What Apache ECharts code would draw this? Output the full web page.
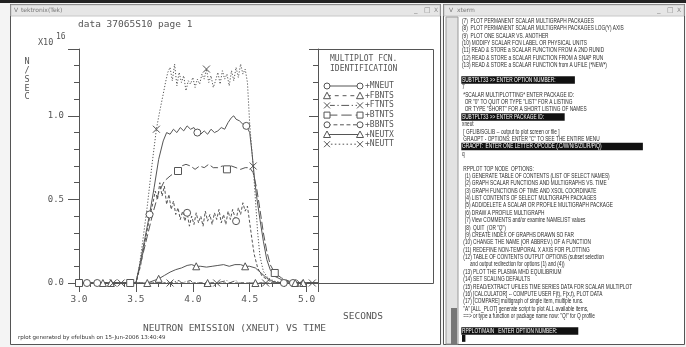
<!DOCTYPE html>
<html>
<head>
<meta charset="utf-8">
<script src="https://cdn.jsdelivr.net/npm/echarts@6/dist/echarts.min.js"></script>
<style>
  html, body { margin: 0; padding: 0; background: #fff; }
  #main { width: 686px; height: 347px; }
</style>
</head>
<body>
<div id="main"></div>
<script>
// ---- data (time in s, value in 1e16 n/s) ----
const xTicks = ['3.0', '3.5', '4.0', '4.5', '5.0']
const yTicks = ['0.0', '0.5', '1.0']

const mneut = [[3.0,0],[3.07,0],[3.3,0],[3.5,0],[3.54,0.13],[3.58,0.27],[3.62,0.41],[3.66,0.57],[3.7,0.74],[3.74,0.85],[3.77,0.9],[3.8,0.89],[3.83,0.92],[3.86,0.9],[3.89,0.93],[3.92,0.91],[3.95,0.94],[3.98,0.92],[4.01,0.93],[4.04,0.9],[4.07,0.89],[4.1,0.91],[4.13,0.89],[4.16,0.92],[4.19,0.9],[4.22,0.91],[4.25,0.93],[4.28,0.92],[4.31,0.96],[4.34,0.99],[4.36,1.0],[4.38,0.98],[4.41,0.97],[4.44,0.95],[4.47,0.94],[4.5,0.9],[4.52,0.78],[4.54,0.64],[4.56,0.52],[4.59,0.38],[4.62,0.25],[4.65,0.14],[4.68,0.08],[4.72,0.04],[4.78,0.02],[4.88,0],[5.1,0]]
const fbnts = [[3.0,0],[3.21,0],[3.6,0],[4.13,0],[4.55,0],[4.97,0],[5.1,0]]
const ftnts = [[3.0,0],[3.37,0],[3.8,0],[3.88,0.015],[3.9,0],[3.98,0.015],[4.0,0],[4.21,0],[4.3,0.015],[4.32,0],[4.38,0.015],[4.4,0],[4.64,0],[5.05,0],[5.1,0]]
const btnts = [[3.0,0],[3.45,0],[3.5,0],[3.55,0.14],[3.6,0.28],[3.65,0.42],[3.7,0.54],[3.75,0.61],[3.8,0.64],[3.84,0.66],[3.87,0.67],[3.9,0.7],[3.94,0.71],[3.98,0.7],[4.02,0.68],[4.06,0.7],[4.1,0.69],[4.14,0.71],[4.18,0.69],[4.22,0.69],[4.26,0.7],[4.3,0.68],[4.34,0.7],[4.38,0.69],[4.42,0.68],[4.46,0.69],[4.5,0.69],[4.53,0.66],[4.56,0.57],[4.59,0.44],[4.62,0.3],[4.65,0.19],[4.68,0.11],[4.72,0.06],[4.78,0.03],[4.85,0.01],[4.95,0],[5.1,0]]
const bbnts = [[3.0,0],[3.16,0],[3.5,0],[3.54,0.1],[3.58,0.25],[3.62,0.39],[3.65,0.48],[3.67,0.55],[3.69,0.5],[3.71,0.6],[3.73,0.52],[3.75,0.58],[3.77,0.47],[3.79,0.53],[3.81,0.44],[3.83,0.49],[3.85,0.41],[3.87,0.45],[3.89,0.38],[3.91,0.43],[3.93,0.37],[3.95,0.42],[3.97,0.34],[3.99,0.4],[4.01,0.35],[4.03,0.42],[4.05,0.36],[4.07,0.4],[4.09,0.34],[4.11,0.43],[4.13,0.37],[4.15,0.41],[4.17,0.35],[4.19,0.42],[4.21,0.38],[4.23,0.44],[4.25,0.36],[4.27,0.41],[4.29,0.35],[4.31,0.43],[4.33,0.38],[4.35,0.44],[4.38,0.37],[4.4,0.45],[4.42,0.41],[4.44,0.48],[4.46,0.43],[4.48,0.46],[4.5,0.36],[4.52,0.26],[4.54,0.17],[4.57,0.09],[4.61,0.04],[4.68,0.01],[4.8,0],[5.1,0]]
const neutx = [[3.0,0],[3.28,0],[3.58,0],[3.62,0.005],[3.66,0.015],[3.7,0.025],[3.75,0.045],[3.8,0.065],[3.85,0.08],[3.9,0.09],[3.95,0.105],[3.99,0.11],[4.03,0.1],[4.07,0.1],[4.12,0.095],[4.17,0.1],[4.22,0.105],[4.27,0.11],[4.32,0.1],[4.37,0.11],[4.42,0.11],[4.46,0.1],[4.5,0.1],[4.55,0.09],[4.6,0.06],[4.65,0.03],[4.7,0.01],[4.75,0],[4.9,0],[5.1,0]]
const neutt = [[3.0,0],[3.3,0],[3.5,0],[3.53,0.1],[3.56,0.25],[3.6,0.46],[3.64,0.7],[3.68,0.92],[3.71,1.03],[3.74,1.13],[3.76,1.2],[3.78,1.26],[3.8,1.29],[3.82,1.21],[3.84,1.31],[3.86,1.18],[3.88,1.26],[3.9,1.2],[3.92,1.24],[3.94,1.15],[3.96,1.21],[3.98,1.19],[4.0,1.23],[4.02,1.17],[4.04,1.22],[4.06,1.19],[4.08,1.25],[4.1,1.22],[4.12,1.28],[4.14,1.2],[4.16,1.24],[4.18,1.17],[4.2,1.21],[4.22,1.26],[4.24,1.19],[4.26,1.27],[4.28,1.22],[4.3,1.25],[4.32,1.18],[4.34,1.27],[4.36,1.21],[4.38,1.29],[4.4,1.23],[4.42,1.31],[4.44,1.25],[4.46,1.28],[4.48,1.2],[4.5,0.95],[4.53,0.7],[4.55,0.5],[4.57,0.3],[4.59,0.16],[4.62,0.07],[4.66,0.03],[4.72,0.01],[4.8,0],[4.94,0],[5.1,0]]

// times where the plotter put a marker on each curve
const mneutMarks = [3.07, 3.62, 4.04, 4.47, 4.88]
const fbntsMarks = [3.21, 3.6, 4.13, 4.55, 4.97]
const ftntsMarks = [3.37, 3.8, 4.21, 4.64, 5.05]
const btntsMarks = [3.0, 3.45, 3.87, 4.3, 4.72]
const bbntsMarks = [3.16, 3.95, 4.38, 4.8]
const neutxMarks = [3.28, 3.7, 4.03, 4.46, 4.9]
const neuttMarks = [3.3, 3.68, 4.12, 4.53, 4.94]

const seriesNames = ['+MNEUT', '+FBNTS', '+FTNTS', '+BTNTS', '+BBNTS', '+NEUTX', '+NEUTT']

// xterm session text
const xtermLines = [
  '(7)  PLOT PERMANENT SCALAR MULTIGRAPH PACKAGES',
  '(8)  PLOT PERMANENT SCALAR MULTIGRAPH PACKAGES LOG(Y) AXIS',
  '(9)  PLOT ONE SCALAR VS. ANOTHER',
  '(10) MODIFY SCALAR FCN LABEL OR PHYSICAL UNITS',
  '(11) READ & STORE a SCALAR FUNCTION FROM A 2ND RUNID',
  '(12) READ & STORE a SCALAR FUNCTION FROM A SNAP RUN',
  '(13) READ & STORE a SCALAR FUNCTION from A UFILE (*NEW*)',
  '',
  'SUBTPLT33 >> ENTER OPTION NUMBER:',
  '7',
  ' *SCALAR MULTIPLOTTING* ENTER PACKAGE ID:',
  '  OR "0" TO QUIT OR TYPE "LIST" FOR A LISTING',
  '  OR TYPE "SHORT" FOR A SHORT LISTING OF NAMES',
  'SUBTPLT33 >> ENTER PACKAGE ID:',
  'xneut',
  ' [ GFLIB/SGLIB -- output to plot screen or file ]',
  ' GRAOPT - OPTIONS: ENTER "C" TO SEE THE ENTIRE MENU',
  'GRAOPT:  ENTER ONE LETTER OPCODE (.C/W/N/S/Z/L/R/P/Q)',
  'q',
  '',
  ' RPPLOT TOP NODE  OPTIONS:',
  '  (1) GENERATE TABLE OF CONTENTS (LIST OF SELECT NAMES)',
  '  (2) GRAPH SCALAR FUNCTIONS AND MULTIGRAPHS VS. TIME',
  '  (3) GRAPH FUNCTIONS OF TIME AND XSOL COORDINATE',
  '  (4) LIST CONTENTS OF SELECT MULTIGRAPH PACKAGES',
  '  (5) ADD/DELETE A SCALAR OR PROFILE MULTIGRAPH PACKAGE',
  '  (6) DRAW A PROFILE MULTIGRAPH',
  '  (7) View COMMENTS and/or examine NAMELIST values',
  '  (8)  QUIT  (OR "Q")',
  '  (9) CREATE INDEX OF GRAPHS DRAWN SO FAR',
  ' (10) CHANGE THE NAME (OR ABBREV.) OF A FUNCTION',
  ' (11) REDEFINE NON-TEMPORAL X AXIS FOR PLOTTING',
  ' (12) TABLE OF CONTENTS OUTPUT OPTIONS (subset selection',
  '      and output redirection for options (1) and (4))',
  ' (13) PLOT THE PLASMA MHD EQUILIBRIUM',
  ' (14) SET SCALING DEFAULTS',
  ' (15) READ/EXTRACT UFILES TIME SERIES DATA FOR SCALAR MULTIPLOT',
  ' (16) [CALCULATOR] -- COMPUTE USER F(t), F(x,t), PLOT DATA',
  ' (17) [COMPARE] multigraph of single item, multiple runs.',
  ' "A" [ALL_PLOT] generate script to plot ALL available items,',
  ' ==> or type a function or package name now: "Q!" for Q profile',
  '',
  'RPPLOT/MAIN   ENTER OPTION NUMBER:'
]
const xtermHighlight = [8, 13, 17, 42]

// ---- layout / style ----
const INK = '#555'
const MONO = 'DejaVu Sans Mono'
const G = {left: 79, top: 49, width: 239, height: 234}
const CROSS = 'path://M0,0L10,10M10,0L0,10'
const markSym = ['circle', 'triangle', CROSS, 'rect', 'circle', 'triangle', CROSS]
const dashes = ['solid', [3, 3], [6, 2, 1, 2], [8, 3], [3, 2], 'solid', [1.2, 1.8]]
const allData = [mneut, fbnts, ftnts, btnts, bbnts, neutx, neutt]
const allMarks = [mneutMarks, fbntsMarks, ftntsMarks, btntsMarks, bbntsMarks, neutxMarks, neuttMarks]

const withMarks = (data, marks, sym) => data.map(p => {
  const hit = marks.some(m => Math.abs(m - p[0]) < 1e-6)
  return hit ? {value: p, symbol: sym, symbolSize: 7} : {value: p, symbol: 'none'}
})

const series = allData.map((d, i) => ({
  name: seriesNames[i],
  type: 'line',
  data: withMarks(d, allMarks[i], markSym[i]),
  symbol: 'none',
  showSymbol: true,
  animation: false,
  silent: true,
  lineStyle: {color: INK, width: 1, type: dashes[i]},
  itemStyle: {color: markSym[i] === CROSS ? 'transparent' : '#fff', borderColor: INK, borderWidth: 1}
}))

// ---- graphic: window chrome, captions, legend box, xterm ----
const graphic = []
const txt = (x, y, text, font, fill, align) => ({
  type: 'text', x, y, silent: true,
  style: {text, font, fill: fill || INK, align: align || 'left', verticalAlign: 'middle'}
})
const seg = (x1, y1, x2, y2, dash) => ({
  type: 'line', silent: true, shape: {x1, y1, x2, y2},
  style: {stroke: INK, lineWidth: 1, lineDash: dash || null}
})

// desktop + windows
graphic.push({type: 'rect', shape: {x: 0, y: 0, width: 686, height: 347}, style: {fill: '#f4f4f4'}, z: -10})
graphic.push({type: 'rect', shape: {x: 0, y: 0, width: 686, height: 3}, style: {fill: '#222'}, z: -10})
// tek window
graphic.push({type: 'rect', shape: {x: 10.5, y: 4.5, width: 430, height: 340}, style: {fill: '#fff', stroke: '#555', lineWidth: 1}, z: -9})
graphic.push({type: 'rect', shape: {x: 11, y: 5, width: 429, height: 11}, style: {fill: '#e6e6e6', stroke: '#c8c8c8', lineWidth: 1}, z: -8})
graphic.push(txt(14, 10.5, 'V', '6px DejaVu Sans', '#777'))
graphic.push(txt(21, 10.5, 'tektronix(Tek)', '6px DejaVu Sans', '#777'))
graphic.push(txt(414, 10.5, '_', '7px DejaVu Sans', '#888'))
graphic.push(txt(424, 10.5, '□', '7px DejaVu Sans', '#888'))
graphic.push(txt(434, 10.5, 'X', '6px DejaVu Sans', '#888'))
// xterm window
graphic.push({type: 'rect', shape: {x: 443.5, y: 4.5, width: 241, height: 340}, style: {fill: '#fff', stroke: '#555', lineWidth: 1}, z: -9})
graphic.push({type: 'rect', shape: {x: 444, y: 5, width: 240, height: 11}, style: {fill: '#e6e6e6', stroke: '#c8c8c8', lineWidth: 1}, z: -8})
graphic.push(txt(449, 10.5, 'V', '6px DejaVu Sans', '#777'))
graphic.push(txt(457, 10.5, 'xterm', '6px DejaVu Sans', '#777'))
graphic.push(txt(657, 10.5, '_', '7px DejaVu Sans', '#888'))
graphic.push(txt(667, 10.5, '□', '7px DejaVu Sans', '#888'))
graphic.push(txt(677, 10.5, 'X', '6px DejaVu Sans', '#888'))
// xterm scrollbar
graphic.push({type: 'rect', shape: {x: 446, y: 17, width: 12, height: 327}, style: {fill: '#e2e2e2', stroke: '#999', lineWidth: 1}, z: -7})
graphic.push({type: 'rect', shape: {x: 451, y: 308, width: 6, height: 36}, style: {fill: '#777'}, z: -6})

// plot captions
graphic.push(txt(78, 25, 'data 37065S10 page 1', '9.5px ' + MONO))
graphic.push(txt(38, 43, 'X10', '8.5px ' + MONO))
graphic.push(txt(56, 37, '16', '8px ' + MONO))
;['N', '/', 'S', 'E', 'C'].forEach((c, i) => graphic.push(txt(27, 62 + i * 8.8, c, '8.5px ' + MONO, INK, 'center')))
graphic.push(txt(343, 317, 'SECONDS', '9.5px ' + MONO))
graphic.push(txt(143, 329, 'NEUTRON EMISSION (XNEUT) VS TIME', '9.5px ' + MONO))
graphic.push(txt(18, 338, 'rplot generated by efelbush on 15-Jun-2006 13:40:49', '5.5px DejaVu Sans', '#333'))

// legend box to the right of the plot frame
graphic.push({type: 'polyline', shape: {points: [[318, 49.5], [433.5, 49.5], [433.5, 283.5], [318, 283.5]]}, style: {stroke: INK, lineWidth: 1, fill: 'none'}})
graphic.push(txt(330, 59, 'MULTIPLOT FCN.', '8px ' + MONO))
graphic.push(txt(330, 69, 'IDENTIFICATION', '8px ' + MONO))
seriesNames.forEach((n, i) => {
  const y = 86 + i * 9.7
  const dash = dashes[i] === 'solid' ? null : dashes[i].map(v => v * 1.3)
  graphic.push(seg(327, y, 360, y, dash))
  ;[327, 360].forEach(cx => {
    const s = markSym[i]
    if (s === 'circle') graphic.push({type: 'circle', shape: {cx, cy: y, r: 3}, style: {fill: '#fff', stroke: INK, lineWidth: 1}})
    else if (s === 'triangle') graphic.push({type: 'polygon', shape: {points: [[cx, y - 3.5], [cx + 3.5, y + 3], [cx - 3.5, y + 3]]}, style: {fill: '#fff', stroke: INK, lineWidth: 1}})
    else if (s === 'rect') graphic.push({type: 'rect', shape: {x: cx - 3, y: y - 3, width: 6, height: 6}, style: {fill: '#fff', stroke: INK, lineWidth: 1}})
    else {
      graphic.push({type: 'rect', shape: {x: cx - 3, y: y - 3, width: 6, height: 6}, style: {fill: '#fff'}})
      graphic.push(seg(cx - 3, y - 3, cx + 3, y + 3))
      graphic.push(seg(cx + 3, y - 3, cx - 3, y + 3))
    }
  })
  graphic.push(txt(365, y, n, '8px ' + MONO))
})

// xterm text, condensed
const termKids = []
xtermLines.forEach((line, i) => {
  const y = 21 + i * 7.38
  const hl = xtermHighlight.includes(i)
  if (hl) {
    const w = line.length * 5.0 + 2
    termKids.push({type: 'rect', shape: {x: -1, y: y - 3.7, width: w, height: 7.4}, style: {fill: '#111'}})
  }
  if (line) termKids.push(txt(0, y, line, '7px Liberation Sans', hl ? '#fff' : '#2a2a2a'))
})
termKids.push({type: 'rect', shape: {x: 0, y: 21 + 43 * 7.38 - 3.5, width: 5, height: 7}, style: {fill: '#111'}})
graphic.push({type: 'group', x: 462, y: 0, scaleX: 0.68, children: termKids})

const axisLine = {lineStyle: {color: INK, width: 1}}
const xBase = {type: 'value', min: 3.0, max: 5.1, gridIndex: 0, splitLine: {show: false}}
const yBase = {type: 'value', min: 0, max: 1.4, gridIndex: 0, splitLine: {show: false}}

const option = {
  animation: false,
  backgroundColor: '#fff',
  graphic: graphic,
  grid: {left: G.left, top: G.top, width: G.width, height: G.height, containLabel: false},
  xAxis: [
    Object.assign({}, xBase, {
      position: 'bottom', interval: 0.5, axisLine,
      axisTick: {inside: false, length: 6, lineStyle: {color: INK}},
      axisLabel: {margin: 12, color: INK, fontFamily: MONO, fontSize: 9.5,
        formatter: v => (xTicks.includes(v.toFixed(1)) && v < 5.05) ? v.toFixed(1) : ''}
    }),
    Object.assign({}, xBase, {
      position: 'top', interval: 0.1, axisLine,
      axisTick: {inside: true, length: 4, lineStyle: {color: INK}}, axisLabel: {show: false}
    }),
    Object.assign({}, xBase, {
      position: 'top', interval: 0.5, axisLine: {show: false},
      axisTick: {inside: true, length: 9, lineStyle: {color: INK}}, axisLabel: {show: false}
    })
  ],
  yAxis: [
    Object.assign({}, yBase, {
      position: 'left', interval: 0.5, axisLine,
      axisTick: {inside: false, length: 11, lineStyle: {color: INK}},
      axisLabel: {margin: 15, color: INK, fontFamily: MONO, fontSize: 9,
        formatter: v => (yTicks.includes(v.toFixed(1)) && v < 1.05) ? v.toFixed(1) : ''}
    }),
    Object.assign({}, yBase, {
      position: 'left', interval: 0.1, axisLine: {show: false},
      axisTick: {inside: false, length: 5, lineStyle: {color: INK}}, axisLabel: {show: false}
    }),
    Object.assign({}, yBase, {
      position: 'right', interval: 0.1, axisLine,
      axisTick: {inside: true, length: 5, lineStyle: {color: INK}}, axisLabel: {show: false}
    }),
    Object.assign({}, yBase, {
      position: 'right', interval: 0.5, axisLine: {show: false},
      axisTick: {inside: true, length: 9, lineStyle: {color: INK}}, axisLabel: {show: false}
    })
  ],
  series: series
}

const chart = echarts.init(document.getElementById('main'))
chart.setOption(option)
</script>
</body>
</html>
